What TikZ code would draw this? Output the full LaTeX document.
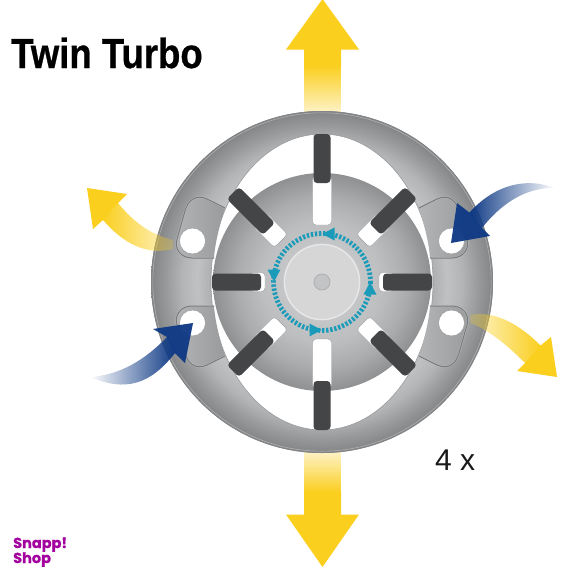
\documentclass[tikz,border=0pt]{standalone}
\usepackage{fontspec}
\setmainfont{Liberation Sans}
\newfontfamily\snapfont[FakeBold=0.5]{Poppins}
\newfontfamily\titlefont[FakeBold=0.7]{Liberation Sans}
\usetikzlibrary{fadings}
\definecolor{yel}{HTML}{FBCF1E}
\definecolor{blu}{HTML}{0F3A85}
\definecolor{tealc}{HTML}{1A9BBA}
\definecolor{barc}{HTML}{434547}
\definecolor{pur}{HTML}{A4009F}
\definecolor{ga}{HTML}{ABADAF}
\definecolor{gb}{HTML}{C0C1C3}
\definecolor{gc}{HTML}{B2B4B6}
\definecolor{gd}{HTML}{999B9D}
\definecolor{ge}{HTML}{828486}
\definecolor{da}{HTML}{D2D3D4}
\definecolor{db}{HTML}{BDBEC0}
\definecolor{dc}{HTML}{ABACAE}
\definecolor{dd}{HTML}{8E9092}
\pgfdeclareradialshading{ringsh}{\pgfpointorigin}{color(0bp)=(ga); color(16bp)=(ga); color(18.3bp)=(gb); color(20.5bp)=(gc); color(22.7bp)=(gd); color(25bp)=(ge); color(50bp)=(ge)}
\pgfdeclareradialshading{discsh}{\pgfpointorigin}{color(0bp)=(da); color(13.8bp)=(db); color(19.5bp)=(dc); color(25bp)=(dd); color(50bp)=(dd)}
\tikzfading[name=tdown,top color=transparent!0,bottom color=transparent!78]
\tikzfading[name=tup,bottom color=transparent!0,top color=transparent!78]
\tikzfading[name=fl,left color=transparent!0,middle color=transparent!0,right color=transparent!78]
\tikzfading[name=fr,right color=transparent!0,middle color=transparent!0,left color=transparent!78]
\tikzfading[name=flw,left color=transparent!0,middle color=transparent!0,right color=transparent!100]
\tikzfading[name=frw,right color=transparent!0,middle color=transparent!0,left color=transparent!100]
\tikzset{
  earline/.style={draw=ge!92!black,line width=1pt},
  slotw/.style={fill=white,draw=gd,line width=0.4pt,rounded corners=3.5pt},
  bard/.style={fill=barc,rounded corners=3.5pt},
  tealhead/.style={fill=tealc},
}
\newcommand{\earpath}{(-108,-24) -- (-130,-24) .. controls (-141,-24) and (-148,-33) .. (-145,-43) -- (-137,-71) .. controls (-134,-82) and (-126,-88) .. (-115,-83) -- (-97,-74)}
\newcommand{\earclose}{.. controls (-101,-62) and (-107,-40) .. (-108,-24) -- cycle}
\begin{document}
\begin{tikzpicture}[x=1pt,y=-1pt]
\useasboundingbox (0,0) rectangle (576,576);
\fill[white] (0,0) rectangle (576,576);
% vertical arrows
\fill[yel] (286,49.5) -- (322.5,-1) -- (359,49.5) -- (341,49.5) -- (341,66) -- (304,66) -- (304,49.5) -- cycle;
\fill[yel,path fading=tdown] (304,65.5) rectangle (341,114);
\fill[yel] (286,514.5) -- (322.5,567) -- (359,514.5) -- (341,514.5) -- (341,492) -- (304,492) -- (304,514.5) -- cycle;
\fill[yel,path fading=tup] (304,450) rectangle (341,492.5);
% ring
\shade[shading=ringsh,even odd rule] (322,282) circle[radius=171] (322,282) ellipse[x radius=111,y radius=148];
\draw[ge,line width=0.8pt] (322,282) circle[radius=170.6];
\draw[gb,line width=0.6pt,opacity=.7] (322,282) circle[radius=169.2];
\draw[gd,line width=0.6pt] (322,282) ellipse[x radius=111,y radius=148];
% lugs
\foreach \sx/\sy in {1/1,-1/1,1/-1,-1/-1}{
  \begin{scope}[shift={(322,282)},xscale=\sx,yscale=\sy]
    \shade[left color=gc,right color=gd] \earpath \earclose;
    \draw[gb,line width=1.9pt,opacity=.7] \earpath;
    \draw[earline] \earpath;
    \fill[white] (-129.5,-41) circle[radius=13];
    \draw[gd,line width=0.5pt] (-129.5,-41) circle[radius=13];
  \end{scope}
}
% centre disc
\shade[shading=discsh] (322,282) circle[radius=109];
% slots and bars
\begin{scope}[shift={(322,282)}]
  \foreach \a in {0,180}{
    \begin{scope}[rotate=\a]
      \draw[slotw] (-9.5,-57) rectangle (9.5,-106);
      \fill[bard] (-8.5,-99) rectangle (8.5,-148);
    \end{scope}
  }
  \foreach \a in {90,270}{
    \begin{scope}[rotate=\a]
      \draw[slotw] (-9.5,-57) rectangle (9.5,-72);
      \fill[bard] (-8.5,-61) rectangle (8.5,-110);
    \end{scope}
  }
  \foreach \a in {45,135,225,315}{
    \begin{scope}[rotate=\a]
      \draw[slotw] (-9.5,-58) rectangle (9.5,-88);
      \fill[bard] (-8.5,-75) rectangle (8.5,-126);
    \end{scope}
  }
  % hub
  \fill[da!92!white] (0,0) circle[radius=38.5];
  \draw[white,opacity=.45,line width=1.2pt] (0,0) circle[radius=37.5];
  \fill[db!70!da] (0,0) circle[radius=8];
  \draw[dc,line width=0.7pt] (0,0) circle[radius=8];
  % rotation ring
  \draw[tealc,line width=4.8pt,dash pattern=on 2.3pt off 1.8pt] (0,0) circle[radius=48.5];
  \foreach \a in {0,90,180,270}{
    \fill[tealhead,rotate=\a] (0.5,-48) -- (12.5,-54.5) -- (12.5,-41.5) -- cycle;
  }
\end{scope}
% left yellow
\fill[yel] (87,188) -- (127,194) -- (118,203) -- (103,220) -- (93,229) -- cycle;
\fill[yel,path fading=fl] (118,203) .. controls (132,220) and (148,234) .. (173,240) -- (173,249) .. controls (145,256) and (122,242) .. (103,220) -- (102,219) -- (117,202) -- cycle;
% right yellow
\fill[yel] (557,377) -- (551,337) -- (540,346) -- (525,363) -- (517,371) -- cycle;
\fill[yel,path fading=fr] (540,345) .. controls (520,325) and (495,310) .. (470,315) -- (470,323) .. controls (490,330) and (510,348) .. (525,363) -- (526,364) -- (541,346) -- cycle;
% top right blue
\fill[blu,opacity=.96] (451,243) -- (457,203) -- (470,213) -- (482,228) -- (490,236) -- cycle;
\fill[blu,path fading=flw] (470,212) .. controls (490,190) and (520,175) .. (555,188) .. controls (525,187) and (500,205) .. (482,228) -- (483,229) -- (469,213) -- cycle;
% bottom left blue
\fill[blu,opacity=.96] (193,323) -- (153,329) -- (167,337) -- (175,353) -- (185,363) -- cycle;
\fill[blu,path fading=frw] (167,337) .. controls (145,360) and (120,375) .. (90,377) .. controls (125,392) and (150,385) .. (175,353) -- (176,354) -- (168,336) -- cycle;
% labels
\node[anchor=base west,inner sep=0pt,text=black] (title) at (11,68) {\scalebox{.87}[1]{\fontsize{42}{42}\selectfont\titlefont\bfseries Twin Turbo}};
\node[anchor=base west,inner sep=0pt,text=black!90] (count) at (435,470) {\fontsize{30}{30}\selectfont 4 x};
\node[anchor=base west,inner sep=0pt,text=pur] (snapa) at (13,548) {\fontsize{14.5}{14.5}\snapfont\bfseries Snapp!};
\node[anchor=base west,inner sep=0pt,text=pur] (snapb) at (13,563) {\fontsize{14.5}{14.5}\snapfont\bfseries Shop};
\end{tikzpicture}
\end{document}
